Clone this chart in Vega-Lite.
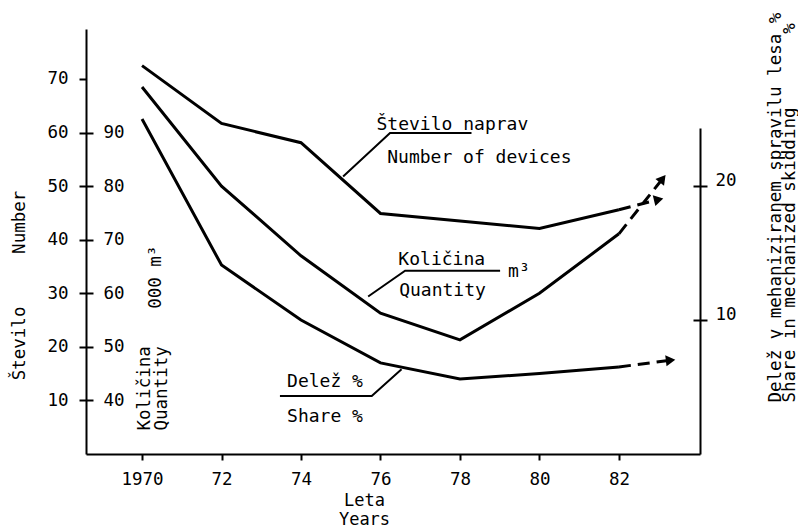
{
  "$schema": "https://vega.github.io/schema/vega-lite/v6.json",
  "width": 614,
  "height": 425,
  "autosize": "none",
  "padding": {"left": 86, "top": 29, "right": 98, "bottom": 78},
  "background": "white",
  "config": {
    "view": {"stroke": null},
    "font": "DejaVu Sans Mono",
    "axis": {
      "domainColor": "black", "domainWidth": 2, "tickColor": "black", "tickWidth": 2,
      "labelColor": "black", "labelFont": "DejaVu Sans Mono", "labelFontSize": 17.5,
      "titleColor": "black", "titleFont": "DejaVu Sans Mono", "titleFontSize": 17.5,
      "titleFontWeight": "normal", "grid": false, "labelFlush": false, "labelOverlap": false
    }
  },
  "datasets": {
    "solid": [
      {"series": "Number", "year": 1970, "value": 72.5},
      {"series": "Number", "year": 1972, "value": 61.7},
      {"series": "Number", "year": 1974, "value": 58.1},
      {"series": "Number", "year": 1976, "value": 44.9},
      {"series": "Number", "year": 1978, "value": 43.5},
      {"series": "Number", "year": 1980, "value": 42.1},
      {"series": "Number", "year": 1982, "value": 45.6},
      {"series": "Quantity", "year": 1970, "value": 98.5},
      {"series": "Quantity", "year": 1972, "value": 80.0},
      {"series": "Quantity", "year": 1974, "value": 67.0},
      {"series": "Quantity", "year": 1976, "value": 56.3},
      {"series": "Quantity", "year": 1978, "value": 51.3},
      {"series": "Quantity", "year": 1980, "value": 60.0},
      {"series": "Quantity", "year": 1982, "value": 71.1},
      {"series": "Share", "year": 1970, "value": 25.0},
      {"series": "Share", "year": 1972, "value": 14.1},
      {"series": "Share", "year": 1974, "value": 10.0},
      {"series": "Share", "year": 1976, "value": 6.8},
      {"series": "Share", "year": 1978, "value": 5.6},
      {"series": "Share", "year": 1980, "value": 6.0},
      {"series": "Share", "year": 1982, "value": 6.5}
    ],
    "proj": [
      {"series": "Number", "year": 1982, "value": 45.6},
      {"series": "Number", "year": 1983.0, "value": 47.5},
      {"series": "Quantity", "year": 1982, "value": 71.1},
      {"series": "Quantity", "year": 1983.1, "value": 81.4},
      {"series": "Share", "year": 1982, "value": 6.5},
      {"series": "Share", "year": 1983.3, "value": 7.0}
    ],
    "leaders": [
      {"leader": "n", "year": 1975.06, "value": 51.8},
      {"leader": "n", "year": 1976.24, "value": 59.9},
      {"leader": "n", "year": 1978.29, "value": 59.9},
      {"leader": "q", "year": 1975.69, "value": 29.4},
      {"leader": "q", "year": 1976.62, "value": 34.2},
      {"leader": "q", "year": 1979.01, "value": 34.2},
      {"leader": "s", "year": 1973.47, "value": 10.83},
      {"leader": "s", "year": 1975.78, "value": 10.83},
      {"leader": "s", "year": 1976.53, "value": 15.8}
    ],
    "notes": [
      {"label": "Število naprav", "year": 1975.9, "value": 60.5},
      {"label": "Number of devices", "year": 1976.17, "value": 54.3},
      {"label": "Količina", "year": 1976.45, "value": 35.3},
      {"label": "m³", "year": 1979.21, "value": 33.0},
      {"label": "Quantity", "year": 1976.47, "value": 29.4},
      {"label": "Delež %", "year": 1973.65, "value": 12.5},
      {"label": "Share %", "year": 1973.65, "value": 6.0}
    ],
    "unit": [
      {"label": "000 m³", "year": 1970.35, "value": 33.0}
    ]
  },
  "layer": [
    {
      "layer": [
        {
          "data": {"name": "solid"},
          "transform": [{"filter": "datum.series == 'Number'"}],
          "mark": {"type": "line", "color": "black", "strokeWidth": 3},
          "encoding": {
            "x": {"field": "year", "type": "quantitative", "scale": {"domain": [1968.59, 1984.04], "nice": false, "zero": false},
              "axis": {"values": [1970, 1972, 1974, 1976, 1978, 1980, 1982], "format": "d",
                "labelExpr": "datum.value == 1970 ? '1970' : substring(datum.label, 2)",
                "tickSize": 6, "labelPadding": 10, "title": ["Leta", "Years"], "titleX": 278, "titleY": 38,
                "titleFontSize": 17, "titleBaseline": "top", "titleAlign": "center", "titleLineHeight": 19}},
            "y": {"field": "value", "type": "quantitative", "scale": {"domain": [0, 79.33], "nice": false, "zero": false},
              "axis": {"orient": "left", "values": [10, 20, 30, 40, 50, 60, 70], "tickSize": 7, "labelPadding": 11,
                "title": "Število\u00a0\u00a0\u00a0\u00a0\u00a0Number", "titleAngle": 270, "titleX": -66.5, "titleY": 256,
                "titleAlign": "center", "titleBaseline": "middle"}}
          }
        },
        {
          "data": {"name": "proj"},
          "transform": [{"filter": "datum.series == 'Number'"}],
          "mark": {"type": "line", "color": "black", "strokeWidth": 3, "strokeDash": [12, 7]},
          "encoding": {
            "x": {"field": "year", "type": "quantitative", "scale": {"domain": [1968.59, 1984.04], "nice": false, "zero": false}},
            "y": {"field": "value", "type": "quantitative", "scale": {"domain": [0, 79.33], "nice": false, "zero": false}}
          }
        },
        {
          "data": {"name": "proj"},
          "transform": [{"filter": "datum.series == 'Number' && datum.year > 1982.5"}],
          "mark": {"type": "point", "shape": "triangle-right", "filled": true, "size": 120, "angle": -14, "color": "black", "opacity": 1},
          "encoding": {
            "x": {"field": "year", "type": "quantitative", "scale": {"domain": [1968.59, 1984.04], "nice": false, "zero": false}},
            "y": {"field": "value", "type": "quantitative", "scale": {"domain": [0, 79.33], "nice": false, "zero": false}}
          }
        },
        {
          "data": {"name": "leaders"},
          "mark": {"type": "line", "color": "black", "strokeWidth": 2},
          "encoding": {
            "x": {"field": "year", "type": "quantitative", "scale": {"domain": [1968.59, 1984.04], "nice": false, "zero": false}},
            "y": {"field": "value", "type": "quantitative", "scale": {"domain": [0, 79.33], "nice": false, "zero": false}},
            "detail": {"field": "leader"}
          }
        },
        {
          "data": {"name": "notes"},
          "mark": {"type": "text", "align": "left", "baseline": "alphabetic", "fontSize": 18, "font": "DejaVu Sans Mono", "color": "black"},
          "encoding": {
            "x": {"field": "year", "type": "quantitative", "scale": {"domain": [1968.59, 1984.04], "nice": false, "zero": false}},
            "y": {"field": "value", "type": "quantitative", "scale": {"domain": [0, 79.33], "nice": false, "zero": false}},
            "text": {"field": "label"}
          }
        },
        {
          "data": {"name": "unit"},
          "mark": {"type": "text", "align": "center", "baseline": "middle", "angle": 270, "fontSize": 17.5, "font": "DejaVu Sans Mono", "color": "black"},
          "encoding": {
            "x": {"field": "year", "type": "quantitative", "scale": {"domain": [1968.59, 1984.04], "nice": false, "zero": false}},
            "y": {"field": "value", "type": "quantitative", "scale": {"domain": [0, 79.33], "nice": false, "zero": false}},
            "text": {"field": "label"}
          }
        }
      ]
    },
    {
      "layer": [
        {
          "data": {"name": "solid"},
          "transform": [{"filter": "datum.series == 'Quantity'"}],
          "mark": {"type": "line", "color": "black", "strokeWidth": 3},
          "encoding": {
            "x": {"field": "year", "type": "quantitative", "scale": {"domain": [1968.59, 1984.04], "nice": false, "zero": false}},
            "y": {"field": "value", "type": "quantitative", "scale": {"domain": [30, 109.33], "nice": false, "zero": false},
              "axis": {"orient": "left", "offset": -7, "domain": false, "values": [40, 50, 60, 70, 80, 90], "tickSize": 7,
                "labelAlign": "left", "labelPadding": -17,
                "title": ["Količina", "Quantity"], "titleAngle": 270, "titleAlign": "left", "titleBaseline": "middle",
                "titleX": 51, "titleY": 401, "titleLineHeight": 17}}
          }
        },
        {
          "data": {"name": "proj"},
          "transform": [{"filter": "datum.series == 'Quantity'"}],
          "mark": {"type": "line", "color": "black", "strokeWidth": 3, "strokeDash": [12, 7]},
          "encoding": {
            "x": {"field": "year", "type": "quantitative", "scale": {"domain": [1968.59, 1984.04], "nice": false, "zero": false}},
            "y": {"field": "value", "type": "quantitative", "scale": {"domain": [30, 109.33], "nice": false, "zero": false}}
          }
        },
        {
          "data": {"name": "proj"},
          "transform": [{"filter": "datum.series == 'Quantity' && datum.year > 1982.5"}],
          "mark": {"type": "point", "shape": "triangle-right", "filled": true, "size": 120, "angle": -52, "color": "black", "opacity": 1},
          "encoding": {
            "x": {"field": "year", "type": "quantitative", "scale": {"domain": [1968.59, 1984.04], "nice": false, "zero": false}},
            "y": {"field": "value", "type": "quantitative", "scale": {"domain": [30, 109.33], "nice": false, "zero": false}}
          }
        }
      ]
    },
    {
      "data": {"name": "solid"},
      "transform": [{"filter": "datum.series == 'Share'"}],
      "mark": {"type": "line", "color": "black", "strokeWidth": 3},
      "encoding": {
        "x": {"field": "year", "type": "quantitative", "scale": {"domain": [1968.59, 1984.04], "nice": false, "zero": false}},
        "y": {"field": "value", "type": "quantitative", "scale": {"domain": [0, 24.33], "range": [425, 99], "nice": false, "zero": false},
          "axis": {"orient": "right", "values": [10, 20], "tickSize": 7, "labelPadding": 8, "labelOffset": -6,
            "title": ["Delež v mehaniziranem spravilu lesa %", "Share in mechanized skidding\u00a0\u00a0\u00a0\u00a0\u00a0\u00a0\u00a0%"],
            "titleAngle": 270, "titleAlign": "left", "titleBaseline": "middle", "titleX": 75.5, "titleY": 373, "titleLineHeight": 14}}
      }
    },
    {
      "layer": [
        {
          "data": {"name": "proj"},
          "transform": [{"filter": "datum.series == 'Share'"}],
          "mark": {"type": "line", "color": "black", "strokeWidth": 3, "strokeDash": [12, 7]},
          "encoding": {
            "x": {"field": "year", "type": "quantitative", "scale": {"domain": [1968.59, 1984.04], "nice": false, "zero": false}},
            "y": {"field": "value", "type": "quantitative", "scale": {"domain": [0, 24.33], "range": [425, 99], "nice": false, "zero": false},
              "axis": {"orient": "right", "offset": -7, "domain": false, "values": [10, 20], "tickSize": 7, "labels": false, "title": null}}
          }
        },
        {
          "data": {"name": "proj"},
          "transform": [{"filter": "datum.series == 'Share' && datum.year > 1982.5"}],
          "mark": {"type": "point", "shape": "triangle-right", "filled": true, "size": 120, "angle": -7, "color": "black", "opacity": 1},
          "encoding": {
            "x": {"field": "year", "type": "quantitative", "scale": {"domain": [1968.59, 1984.04], "nice": false, "zero": false}},
            "y": {"field": "value", "type": "quantitative", "scale": {"domain": [0, 24.33], "range": [425, 99], "nice": false, "zero": false}}
          }
        }
      ]
    }
  ],
  "resolve": {"scale": {"y": "independent"}}
}
